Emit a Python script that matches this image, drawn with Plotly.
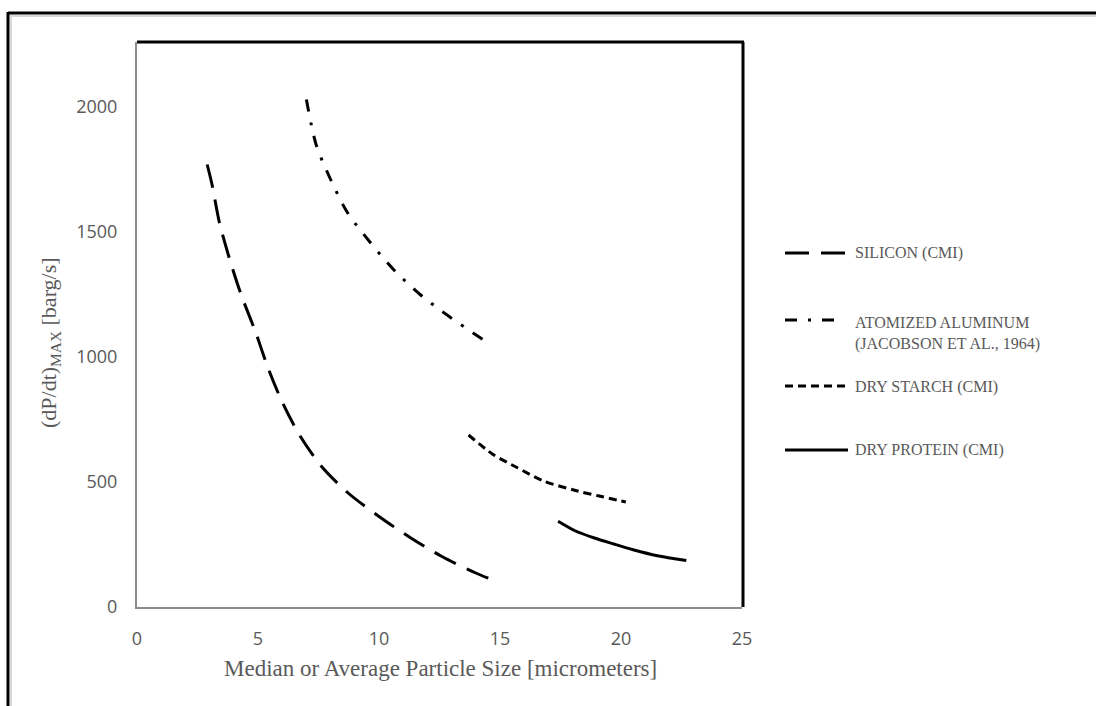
import plotly.graph_objects as go

# ---- data ----
silicon_x = [2.9, 3.1, 3.4, 3.8, 4.3, 4.9, 5.4, 6.0, 6.7, 7.6, 8.7, 10.0, 11.3, 12.6, 14.0, 14.7]
silicon_y = [1770, 1690, 1540, 1400, 1250, 1100, 960, 820, 690, 565, 458, 362, 277, 202, 136, 108]

aluminum_x = [7.0, 7.4, 8.0, 8.7, 9.6, 10.6, 11.7, 12.9, 14.45]
aluminum_y = [2030, 1850, 1710, 1577, 1463, 1350, 1250, 1162, 1060]

starch_x = [13.7, 14.7, 15.7, 16.8, 18.2, 19.1, 20.2]
starch_y = [688, 611, 558, 504, 464, 444, 420]

protein_x = [17.4, 18.1, 18.9, 19.7, 20.5, 21.5, 22.7]
protein_y = [343, 305, 276, 252, 229, 205, 186]

series_names = ["SILICON (CMI)", "ATOMIZED ALUMINUM<br>(JACOBSON ET AL., 1964)",
                "DRY STARCH (CMI)", "DRY PROTEIN (CMI)"]
x_ticks = [0, 5, 10, 15, 20, 25]
y_ticks = [0, 500, 1000, 1500, 2000]

# ---- layout geometry (pixels) ----
W, H = 1096, 706
L, R, T, B = 137, 742, 42, 607
PW, PH = R - L, B - T


def px(x):
    return (x - L) / PW


def py(y):
    return (B - y) / PH


GRAY = "#595959"
SERIF = "Liberation Serif, Times New Roman, serif"
SANS = "Open Sans, sans-serif"

dash_si = "24px,12px"
dash_al = "12px,11px,3px,11px"
dash_st = "8px,5px"

fig = go.Figure()
line_common = dict(color="black", width=3, shape="spline", smoothing=0.8)
fig.add_trace(go.Scatter(x=silicon_x, y=silicon_y, mode="lines", name=series_names[0],
                         line=dict(dash=dash_si, **line_common)))
fig.add_trace(go.Scatter(x=aluminum_x, y=aluminum_y, mode="lines", name=series_names[1],
                         line=dict(dash=dash_al, **line_common)))
fig.add_trace(go.Scatter(x=starch_x, y=starch_y, mode="lines", name=series_names[2],
                         line=dict(dash=dash_st, **line_common)))
fig.add_trace(go.Scatter(x=protein_x, y=protein_y, mode="lines", name=series_names[3],
                         line=dict(dash="solid", **line_common)))

shapes = []
# outer frame (shadow + black)
shapes.append(dict(type="line", xref="paper", yref="paper", x0=px(10), x1=px(W + 5), y0=py(16), y1=py(16),
                   line=dict(color="#d9d9d9", width=2)))
shapes.append(dict(type="line", xref="paper", yref="paper", x0=px(11), x1=px(11), y0=py(15), y1=py(H + 5),
                   line=dict(color="#d9d9d9", width=2)))
shapes.append(dict(type="line", xref="paper", yref="paper", x0=px(8), x1=px(W + 5), y0=py(13), y1=py(13),
                   line=dict(color="black", width=3)))
shapes.append(dict(type="line", xref="paper", yref="paper", x0=px(8), x1=px(8), y0=py(12), y1=py(H + 5),
                   line=dict(color="black", width=3)))
# plot-area top & right borders
shapes.append(dict(type="line", xref="paper", yref="paper", x0=0, x1=px(R + 2), y0=1, y1=1,
                   line=dict(color="black", width=3)))
shapes.append(dict(type="line", xref="paper", yref="paper", x0=px(R + 1), x1=px(R + 1), y0=1, y1=0,
                   line=dict(color="black", width=3)))

# manual legend
legend_rows = [
    (253, 253, dash_si, 785, 848),
    (320, 333, dash_al, 785, 837),
    (386, 387, dash_st, 785, 848),
    (450, 450, "solid", 785, 848),
]
annotations = []
for name, (ly, ty, dsh, lx0, lx1) in zip(series_names, legend_rows):
    shapes.append(dict(type="line", xref="paper", yref="paper", x0=px(lx0), x1=px(lx1), y0=py(ly), y1=py(ly),
                       line=dict(color="black", width=3, dash=dsh)))
    annotations.append(dict(x=px(853), y=py(ty), xref="paper", yref="paper", text=name, showarrow=False,
                            xanchor="left", yanchor="middle", align="left",
                            font=dict(family=SERIF, size=16, color=GRAY)))

# axis titles
annotations.append(dict(x=px(440), y=py(668), xref="paper", yref="paper",
                        text="Median or Average Particle Size [micrometers]", showarrow=False,
                        xanchor="center", yanchor="middle",
                        font=dict(family=SERIF, size=23, color=GRAY)))
annotations.append(dict(x=px(50), y=py(343), xref="paper", yref="paper",
                        text="(dP/dt)<sub>MAX</sub> [barg/s]", showarrow=False, textangle=-90,
                        xanchor="center", yanchor="middle",
                        font=dict(family=SERIF, size=22, color=GRAY)))

fig.update_layout(
    width=W, height=H,
    margin=dict(l=L, r=W - R, t=T, b=H - B, pad=0),
    paper_bgcolor="white", plot_bgcolor="white",
    showlegend=False,
    shapes=shapes, annotations=annotations,
    xaxis=dict(range=[0, 25], tickvals=x_ticks, ticktext=[str(v) for v in x_ticks],
               showgrid=False, zeroline=False, showline=True, linecolor="#8c8c8c", linewidth=2,
               ticks="", ticklabelstandoff=14,
               tickfont=dict(family=SANS, size=18, color=GRAY)),
    yaxis=dict(range=[0, 2260], tickvals=y_ticks, ticktext=[str(v) for v in y_ticks],
               showgrid=False, zeroline=False, showline=True, linecolor="#8c8c8c", linewidth=2,
               ticks="", ticklabelstandoff=14,
               tickfont=dict(family=SANS, size=18, color=GRAY)),
)

fig.write_html("out.html")
